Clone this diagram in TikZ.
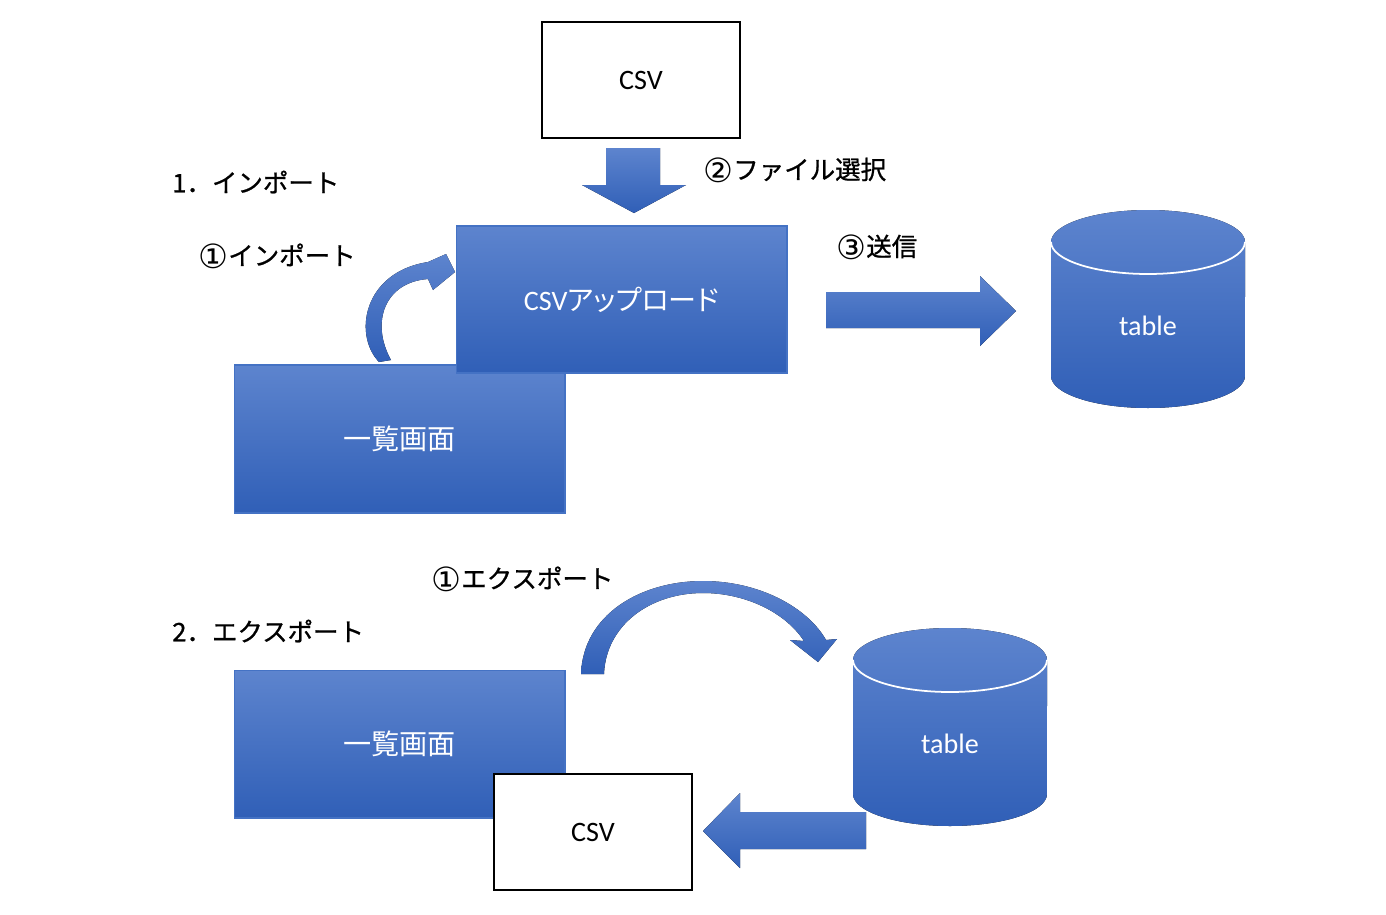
\documentclass[tikz,border=0pt]{standalone}
\usepackage{fontspec}
\setmainfont{Carlito}
\newfontfamily\jpfont{Noto Sans CJK JP}
\newfontfamily\jplabel{Noto Sans CJK JP}[FakeBold=0.8]
\newfontfamily\jppal{Noto Sans CJK JP}[RawFeature=+palt]
\newfontfamily\circfont{DejaVu Sans}
\usetikzlibrary{positioning}
\usepackage{xcolor}
\definecolor{boxtop}{RGB}{93,132,206}
\definecolor{boxbottom}{RGB}{48,95,183}
\definecolor{boxline}{RGB}{68,114,196}
% cylinder: name, centre x, top y, bottom y
\newcommand*{\tablecyl}[4]{%
  \fill[top color=boxtop, bottom color=boxbottom] (#2-97,#3) -- (#2-97,#4)
    arc[start angle=180, end angle=360, x radius=1.94cm, y radius=0.64cm] -- (#2+97,#3)
    arc[start angle=0, end angle=180, x radius=1.94cm, y radius=0.64cm] -- cycle;
  \draw[white, line width=1pt] (#2-97,#3) arc[start angle=180, end angle=360, x radius=1.94cm, y radius=0.64cm];
  \node[cyltext] (#1) at (#2,{(#3+#4)/2+17}) {table};
}
\newcommand*{\stepno}[1]{\raisebox{-0.12em}{\circfont\fontsize{19}{20}\selectfont #1}}

\begin{document}
\begin{tikzpicture}[x=0.02cm, y=-0.02cm, every node/.style={inner sep=0pt},
    steplabel/.style={anchor=west, font=\jplabel\fontsize{14.5}{16}\selectfont},
    whitebox/.style={rectangle, draw=black, line width=1.1pt, fill=white, minimum width=3.96cm, minimum height=2.32cm, font=\fontsize{16}{18}\selectfont},
    bluebox/.style={rectangle, draw=boxline, line width=0.6pt, top color=boxtop, bottom color=boxbottom, minimum width=6.62cm, minimum height=2.96cm, text=white, font=\fontsize{16}{18}\selectfont},
    blockarrow/.style={top color=boxtop, bottom color=boxbottom},
    cyltext/.style={text=white, font=\fontsize{16}{18}\selectfont}]
    \useasboundingbox (0,0) rectangle (1386,914);

    % 1. import
    \node[steplabel] (importhead) at (172,182) {1．インポート};
    \node[whitebox] (csvin) at (641,80) {CSV};
    \fill[blockarrow] (606,148) -- (660,148) -- (660,185) -- (686,185) -- (634,213) -- (582,185) -- (606,185) -- cycle;
    \node[steplabel] (select) at (703,170) {\stepno{②}ファイル選択};

    \node[bluebox] (list1) at (399.5,439) {\jpfont 一覧画面};
    \node[bluebox, minimum height=2.94cm] (upload) at (621.5,299.5) {CSV{\jppal アップロード}};
    \fill[blockarrow] (379,362) .. controls (353,335) and (363,272) .. (428,262) -- (446,254) -- (455,272) -- (433,290) -- (428,279) .. controls (385,282) and (370,322) .. (391,360) -- cycle;
    \node[steplabel] (importstep) at (198,256) {\stepno{①}インポート};

    \node[steplabel] (send) at (836,247) {\stepno{③}送信};
    \fill[blockarrow] (826,292) -- (980,292) -- (980,276) -- (1016,311) -- (980,346) -- (980,328) -- (826,328) -- cycle;
    \tablecyl{db1}{1148}{242}{376}

    % 2. export
    \node[steplabel] (exporthead) at (172,631) {2．エクスポート};
    \node[steplabel] (exportstep) at (431,579) {\stepno{①}エクスポート};
    \node[bluebox] (list2) at (399.5,744) {\jpfont 一覧画面};
    \node[whitebox] (csvout) at (593,832) {CSV};
    \fill[blockarrow] (581,674) .. controls (583,615) and (640,581) .. (703,581) .. controls (760,581) and (808,608) .. (826,640) -- (837,639) -- (818,662) -- (790,640) -- (804,641) .. controls (785,612) and (745,593) .. (703,593) .. controls (650,593) and (606,625) .. (604,674) -- cycle;
    \tablecyl{db2}{950}{660}{794}
    \fill[blockarrow] (866,812) -- (740,812) -- (740,793) -- (703,831) -- (740,868) -- (740,849) -- (866,849) -- cycle;
\end{tikzpicture}
\end{document}
